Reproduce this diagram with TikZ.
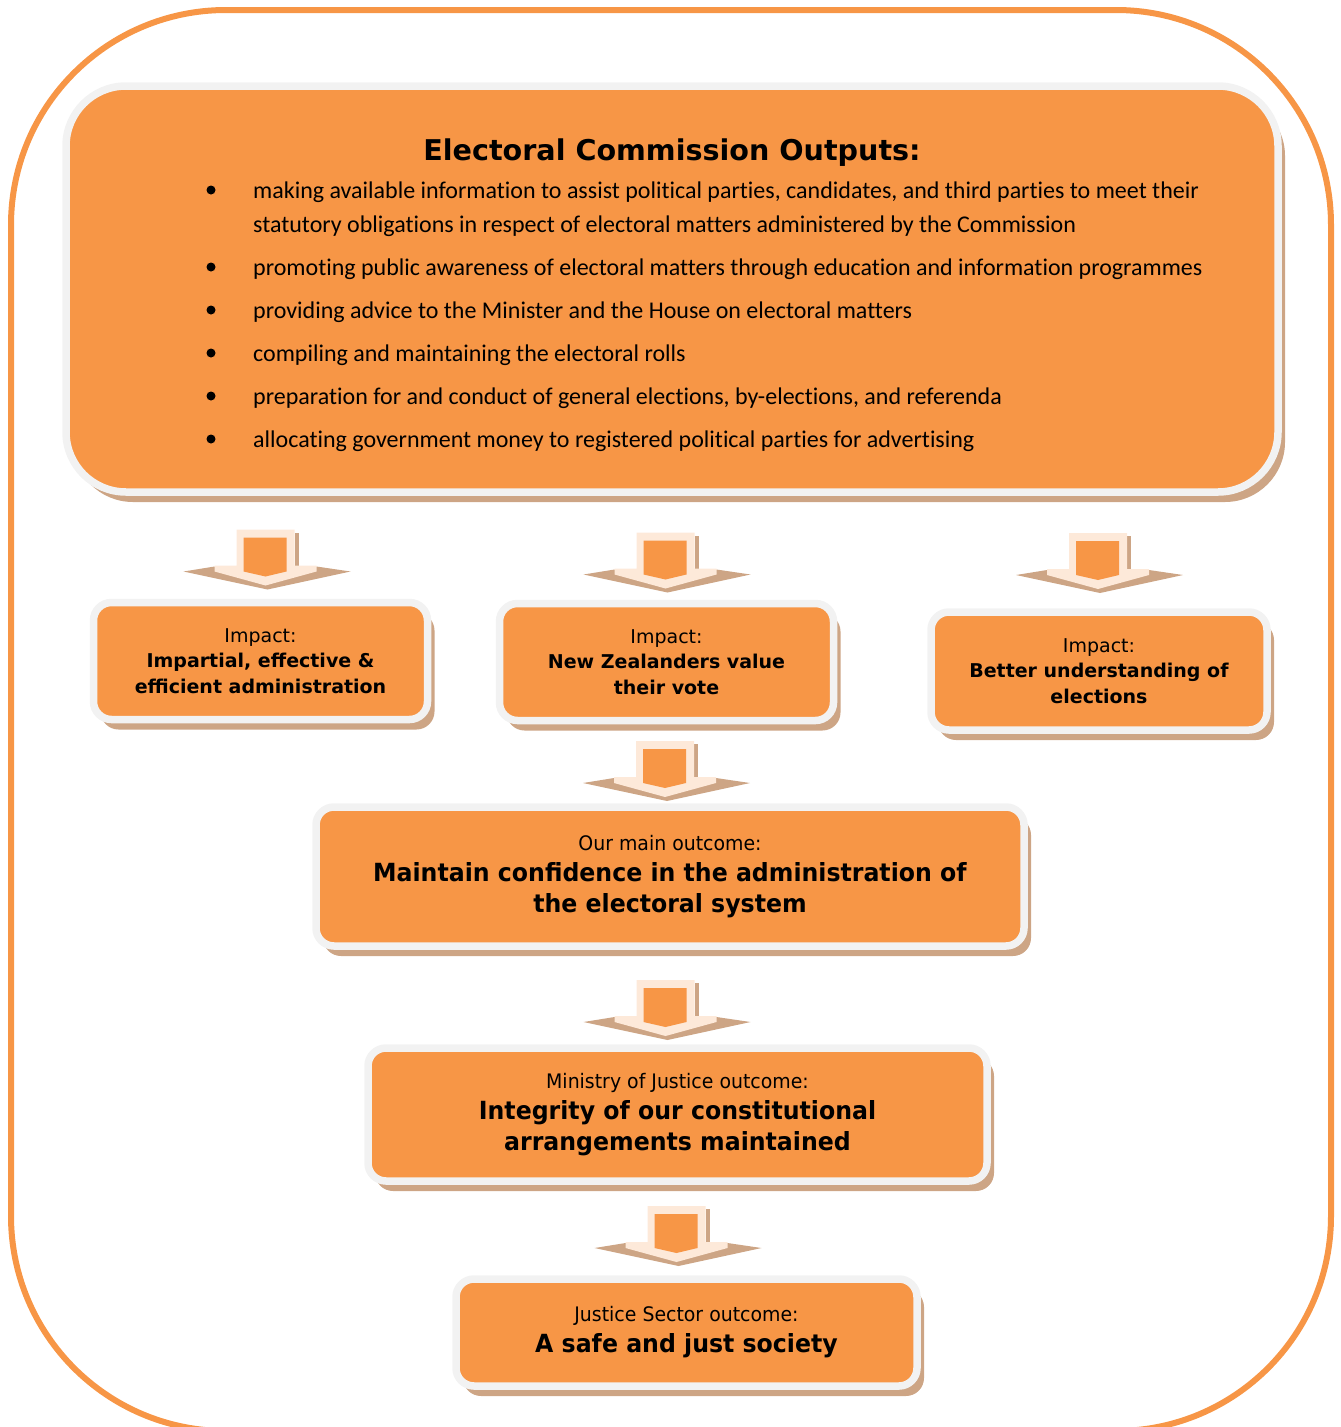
\documentclass[tikz,border=0pt]{standalone}
\usepackage{fontspec}
\setmainfont{Carlito}[Ligatures=NoCommon]
\newfontfamily\tahomaish{DejaVu Sans}
\newfontfamily\tahomanarrow{DejaVu Sans}[FakeStretch=0.945]
\usetikzlibrary{shadows,calc}
\definecolor{ecorange}{HTML}{F79646}
\definecolor{ecgray}{HTML}{F2F2F2}
\definecolor{ectan}{HTML}{CDA585}
\definecolor{ecpeach}{HTML}{FDE9D9}
\tikzset{
    frame/.style      = {draw=ecorange, line width=6pt, rounded corners=215pt},
    outbox/.style     = {draw=ecgray, line width=7.5pt, fill=ecorange,
                        rounded corners=18pt, inner sep=0pt, outer sep=0pt,
                        align=center,
                        drop shadow={shadow xshift=7pt, shadow yshift=-10pt,
                                     fill=ectan, opacity=1}},
    impactbox/.style  = {outbox, minimum width=334pt, minimum height=117pt,
                        font={\tahomaish\fontsize{19}{25.5}\selectfont}},
    outcomebox/.style = {outbox, font={\tahomanarrow\fontsize{25}{31}\selectfont}},
    titletext/.style  = {inner sep=0pt, font={\tahomaish\bfseries\fontsize{28.6}{35}\selectfont}},
    itemtext/.style   = {inner sep=0pt, font={\fontsize{24}{34}\selectfont}},
    dot/.style        = {circle, fill=black, minimum size=9pt, inner sep=0pt},
}
\begin{document}
\begin{tikzpicture}[x=1pt,y=-1pt]
    \useasboundingbox (0,0) rectangle (1341,1427);
    % outer frame
    \draw[frame] (11,10) rectangle (1331,1431);

    % top box with the outputs
    \node[outbox, rounded corners=60pt, minimum width=1212pt, minimum height=406pt]
        (outputs) at (672,289) {};
    \node[titletext, anchor=base] (title) at (672,160) {Electoral Commission Outputs:};
    \foreach \yy/\txt [count=\i] in {
        198/{making available information to assist political parties, candidates, and third parties to meet their},
        275/{promoting public awareness of electoral matters through education and information programmes},
        318/{providing advice to the Minister and the House on electoral matters},
        361/{compiling and maintaining the electoral rolls},
        404/{preparation for and conduct of general elections, by-elections, and referenda},
        447/{allocating government money to registered political parties for advertising}} {
        \node[dot] (dot\i) at (211,{\yy-8}) {};
        \node[itemtext, anchor=base west] (item\i) at (253,\yy) {\txt};
    }
    \node[itemtext, anchor=base west] (item1b) at (253,232)
        {statutory obligations in respect of electoral matters administered by the Commission};

    % impacts
    \node[impactbox] (impartial) at (260.5,661)
        {Impact:\\\textbf{Impartial, effective \&}\\\textbf{efficient administration}};
    \node[impactbox] (nzvote) at (666.5,662)
        {Impact:\\\textbf{New Zealanders value}\\\textbf{their vote}};
    \node[impactbox, minimum width=336pt, minimum height=118pt] (understanding) at (1099,671)
        {Impact:\\\textbf{Better understanding of}\\\textbf{elections}};

    % outcomes
    \node[outcomebox, minimum width=708pt, minimum height=139pt] (mainout) at (670,876.5)
        {{\fontsize{20}{31}\selectfont Our main outcome:}\\
         \textbf{Maintain confidence in the administration of}\\\textbf{the electoral system}};
    \node[outcomebox, minimum width=619pt, minimum height=133pt] (mojout) at (677.5,1114.5)
        {{\fontsize{20}{31}\selectfont Ministry of Justice outcome:}\\
         \textbf{Integrity of our constitutional}\\\textbf{arrangements maintained}};
    \node[outcomebox, minimum width=461pt, minimum height=107pt] (sectorout) at (686.5,1332.5)
        {{\fontsize{20}{31}\selectfont Justice Sector outcome:}\\
         \textbf{A safe and just society}};

    % block arrows above each box
    \foreach \n/\dx/\dy in {impartial/5/73, nzvote/-1/71, understanding/-1/79,
                            mainout/-5/66, mojout/-12/68, sectorout/-10/73} {
        \begin{scope}[shift={($(\n.north)+(\dx,-\dy)$)}]
            \fill[ectan] (-82,42) -- (-51,37) -- (51,37) -- (85,42) -- (2,60) -- cycle;
            \fill[ectan] (29,3) rectangle (33,36);
            \fill[ecpeach] (-29,0) -- (29,0) -- (29,36) -- (51,36) -- (51,42)
                -- (0,56) -- (-51,42) -- (-51,36) -- (-29,36) -- cycle;
            \fill[ecorange] (-22,8) -- (21,8) -- (21,42) -- (0,47) -- (-22,42) -- cycle;
        \end{scope}
    }
\end{tikzpicture}
\end{document}
